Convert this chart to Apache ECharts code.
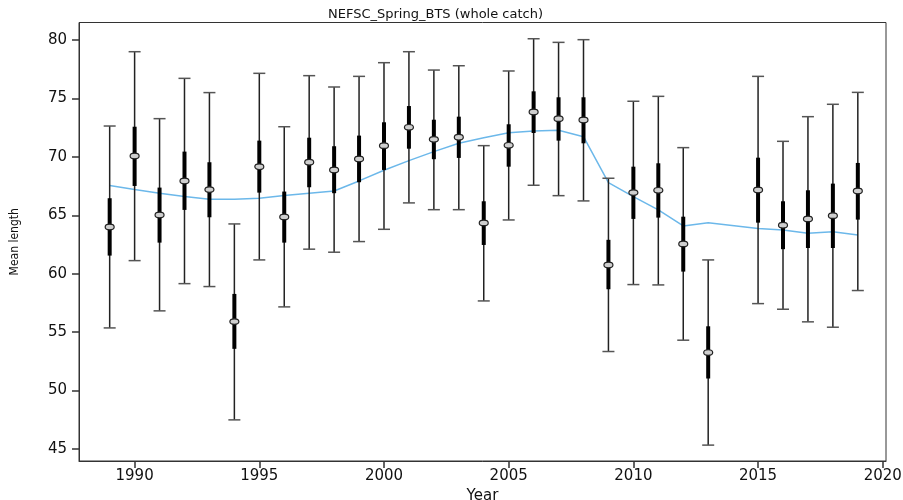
<!DOCTYPE html>
<html>
<head>
<meta charset="utf-8">
<script src="https://cdn.jsdelivr.net/npm/echarts@6/dist/echarts.min.js"></script>
<style>html,body{margin:0;padding:0;background:#fff}#c{width:903px;height:500px}</style>
</head>
<body>
<div id="c"></div>
<script>
const years = [1989,1990,1991,1992,1993,1994,1995,1996,1997,1998,1999,2000,2001,2002,2003,2004,2005,2006,2007,2008,2009,2010,2011,2012,2013,2015,2016,2017,2018,2019];
const meanLen = [64.0,70.08,65.03,67.94,67.2,55.9,69.16,64.86,69.54,68.88,69.82,70.96,72.53,71.5,71.68,64.35,70.99,73.84,73.27,73.16,60.75,66.94,67.14,62.55,53.25,67.17,64.15,64.69,64.97,67.08];
const boxHigh = [66.46,72.58,67.37,70.45,69.54,58.27,71.39,67.03,71.64,70.91,71.82,72.96,74.35,73.18,73.44,66.2,72.79,75.61,75.1,75.1,62.9,69.16,69.45,64.88,55.5,69.93,66.2,67.14,67.71,69.48];
const boxLow = [61.55,67.51,62.66,65.46,64.83,53.57,66.94,62.66,67.4,66.89,67.83,68.88,70.7,69.8,69.91,62.46,69.16,72.04,71.39,71.16,58.67,64.69,64.8,60.18,51.03,64.37,62.1,62.2,62.2,64.63];
const whiskHigh = [72.64,79.0,73.27,76.72,75.5,64.26,77.15,72.58,76.95,75.98,76.89,78.06,79.0,77.43,77.8,70.96,77.35,80.11,79.8,80.03,68.17,74.76,75.18,70.79,61.18,76.89,71.33,73.44,74.5,75.52];
const whiskLow = [55.36,61.12,56.82,59.15,58.9,47.49,61.18,57.16,62.1,61.84,62.75,63.8,66.06,65.48,65.48,57.67,64.6,67.57,66.68,66.23,53.34,59.07,59.04,54.31,45.33,57.44,56.96,55.88,55.42,58.56];
const trend = [67.54,67.2,66.89,66.6,66.37,66.37,66.46,66.7,66.89,67.08,67.94,68.85,69.68,70.45,71.16,71.64,72.07,72.22,72.27,71.73,67.8,66.6,65.46,64.09,64.37,63.86,63.75,63.46,63.6,63.32];
const xTicks = [1990,1995,2000,2005,2010,2015,2020];
const yTicks = [45,50,55,60,65,70,75,80];
const titleText = 'NEFSC_Spring_BTS (whole catch)';

const chart = echarts.init(document.getElementById('c'), null, {renderer: 'canvas'});
const errData = years.map((y, i) => [y, meanLen[i], boxLow[i], boxHigh[i], whiskLow[i], whiskHigh[i]]);
const trendData = years.map((y, i) => [y, trend[i]]);

function renderItem(params, api) {
  const x = api.value(0);
  const pm = api.coord([x, api.value(1)]);
  const pbl = api.coord([x, api.value(2)]);
  const pbh = api.coord([x, api.value(3)]);
  const pwl = api.coord([x, api.value(4)]);
  const pwh = api.coord([x, api.value(5)]);
  const px = pm[0];
  const capHalf = 6;
  return {
    type: 'group',
    children: [
      {type: 'line', shape: {x1: px, y1: pwh[1], x2: px, y2: pwl[1]}, style: {stroke: '#222', lineWidth: 1.5}},
      {type: 'line', shape: {x1: px - capHalf, y1: pwh[1], x2: px + capHalf, y2: pwh[1]}, style: {stroke: '#555', lineWidth: 1.5}},
      {type: 'line', shape: {x1: px - capHalf, y1: pwl[1], x2: px + capHalf, y2: pwl[1]}, style: {stroke: '#555', lineWidth: 1.5}},
      {type: 'rect', shape: {x: px - 2, y: pbh[1], width: 4, height: pbl[1] - pbh[1]}, style: {fill: '#000'}},
      {type: 'ellipse', shape: {cx: px, cy: pm[1], rx: 4.5, ry: 2.8}, style: {fill: '#cfcfcf', stroke: '#222', lineWidth: 1.2}}
    ]
  };
}

const labelFont = {fontFamily: 'DejaVu Sans', fontSize: 15, color: '#111'};

chart.setOption({
  animation: false,
  backgroundColor: '#fff',
  title: {
    text: titleText,
    left: 323, top: 3,
    textStyle: {fontFamily: 'DejaVu Sans', fontSize: 13, fontWeight: 'normal', color: '#111'}
  },
  grid: {left: 79, top: 22.5, right: 17, bottom: 39, containLabel: false, outerBoundsMode: 'none', show: true, borderColor: '#333', borderWidth: 1, backgroundColor: 'transparent'},
  xAxis: {
    type: 'value', min: 1987.77, max: 2020.13,
    name: 'Year', nameLocation: 'middle', nameGap: 19,
    nameTextStyle: {fontFamily: 'DejaVu Sans', fontSize: 15, color: '#111'},
    axisLine: {show: true, onZero: false, lineStyle: {color: '#333', width: 1}},
    axisTick: {show: true, length: 7, customValues: xTicks, lineStyle: {color: '#333', width: 1.5}},
    axisLabel: Object.assign({customValues: xTicks, margin: 8, formatter: v => String(v)}, labelFont),
    splitLine: {show: false}
  },
  yAxis: {
    type: 'value', min: 43.97, max: 81.5,
    name: 'Mean length', nameLocation: 'middle', nameGap: 58, nameRotate: 90,
    nameTextStyle: {fontFamily: 'DejaVu Sans Condensed, Liberation Sans, sans-serif', fontSize: 12, color: '#111'},
    axisLine: {show: true, onZero: false, lineStyle: {color: '#333', width: 1}},
    axisTick: {show: true, length: 7, customValues: yTicks, lineStyle: {color: '#333', width: 1.5}},
    axisLabel: Object.assign({customValues: yTicks, margin: 12, formatter: v => String(v)}, labelFont),
    splitLine: {show: false}
  },
  series: [
    {
      type: 'line', data: trendData, showSymbol: false, symbol: 'none', z: 1,
      lineStyle: {color: '#6cb8ea', width: 1.5}
    },
    {
      type: 'custom', data: errData, renderItem: renderItem, z: 2,
      encode: {x: 0, y: [4, 5]}
    }
  ]
});
</script>
</body>
</html>
